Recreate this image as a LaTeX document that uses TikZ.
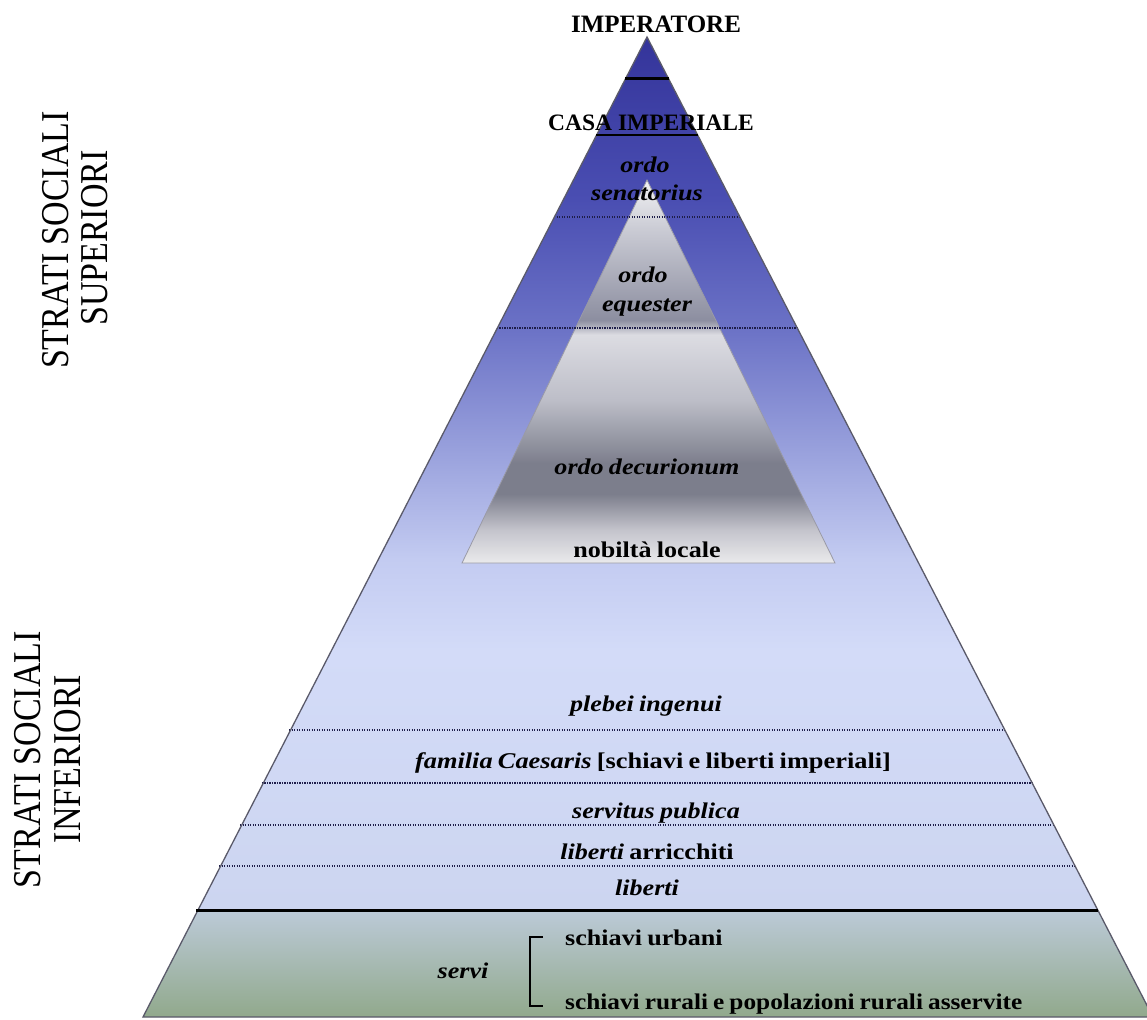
\documentclass[tikz,border=0pt]{standalone}
\usepackage{fontspec}
\setmainfont{Liberation Serif}[FakeStretch=1.16, WordSpace=0.8]
\newfontfamily\vfont{Liberation Serif}
\newfontfamily\capfont{Liberation Serif}
\usepackage{graphicx}
\definecolor{b0}{HTML}{34349A}
\definecolor{b1}{HTML}{4A4EB2}
\definecolor{b2}{HTML}{6B72C6}
\definecolor{b3}{HTML}{98A0DC}
\definecolor{b4}{HTML}{C3CBF1}
\definecolor{b5}{HTML}{D3DBF8}
\definecolor{b6}{HTML}{CCD5F0}
\definecolor{g0}{HTML}{F2F2F4}
\definecolor{g1}{HTML}{CACBD4}
\definecolor{g2}{HTML}{8C8EA0}
\definecolor{g3}{HTML}{DCDCE2}
\definecolor{g4}{HTML}{BDBEC8}
\definecolor{g5}{HTML}{7C7E8C}
\definecolor{g6}{HTML}{C4C4CC}
\definecolor{g7}{HTML}{EAEAEC}
\definecolor{lt}{HTML}{BCCAD8}
\definecolor{lb}{HTML}{91A98C}
\definecolor{dotc}{HTML}{1E1E4A}
\definecolor{edgec}{HTML}{5A5A6A}
\definecolor{inedge}{HTML}{9A9AA6}
\pgfdeclareverticalshading{uppershade}{100bp}{color(0bp)=(b6); color(25bp)=(b6); color(39.9bp)=(b5); color(45.1bp)=(b4); color(51.4bp)=(b3); color(58.3bp)=(b2); color(65.7bp)=(b1); color(75bp)=(b0); color(100bp)=(b0)}
\pgfdeclareverticalshading{innershade}{100bp}{color(0bp)=(g7); color(25bp)=(g7); color(29.3bp)=(g6); color(34bp)=(g5); color(38bp)=(g5); color(46.3bp)=(g4); color(54.8bp)=(g3); color(56.7bp)=(g2); color(68.5bp)=(g1); color(75bp)=(g0); color(100bp)=(g0)}
\begin{document}
\begin{tikzpicture}[x=1pt,y=-1pt,
  txt/.style={anchor=base, inner sep=0pt, font=\fontsize{22.5}{27}\selectfont\bfseries},
  itxt/.style={txt, font=\fontsize{22.5}{27}\selectfont\bfseries\itshape},
  caps/.style={anchor=base, inner sep=0pt, font=\capfont\fontsize{25}{30}\selectfont\bfseries},
  vlab/.style={anchor=base, inner sep=0pt, rotate=90, font=\vfont\fontsize{34}{40}\selectfont},
  dotline/.style={draw=dotc, line width=1.5pt, dash pattern=on 1.2pt off 1.3pt},
  thickline/.style={draw=black, line width=3pt},
]
\useasboundingbox (0,0) rectangle (1147,1019);
\fill[white] (0,0) rectangle (1147,1019);
\coordinate (A) at (647,37);
\coordinate (L) at (143,1017);
\coordinate (R) at (1153,1017);
\begin{scope}
  \clip (A) -- (L) -- (R) -- cycle;
  \shade[shading=uppershade] (0,37) rectangle (1200,910);
  \shade[top color=lt, bottom color=lb] (0,910) rectangle (1200,1017);
\end{scope}
% inner pyramid
\shadedraw[shading=innershade, draw=inedge, line width=0.8pt] (647,180) -- (462,563) -- (835,563) -- cycle;
% dotted separators
\draw[dotline] (554.1,217) -- (739.9,217);
\draw[dotline] (496.8,328) -- (797.2,328);
\draw[dotline] (289.2,730) -- (1004.8,730);
\draw[dotline] (261.8,783) -- (1032.2,783);
\draw[dotline] (240.2,825) -- (1053.8,825);
\draw[dotline] (219.0,866) -- (1075.0,866);
% outline
\draw[edgec, line width=1.3pt] (A) -- (L) -- (R) -- cycle;
% solid separators
\draw[thickline] (625.3,79) -- (668.7,79);
\draw[draw=black, line width=2.5pt] (596.4,135) -- (697.6,135);
\draw[thickline] (196.3,910) -- (1097.7,910);
% bracket
\coordinate (bt) at (543,937);
\coordinate (bb) at (543,1006);
\draw[black, line width=2pt] (bt) -- (530,937) -- (530,1006) -- (bb);
% texts
\node[caps] (imp) at (656,33) {IMPERATORE};
\node[caps, font=\capfont\fontsize{23.5}{28}\selectfont\bfseries] (casa) at (651,131) {CASA IMPERIALE};
\node[itxt] (sen1) at (645,172) {ordo};
\node[itxt] (sen2) at (647,200) {senatorius};
\node[itxt] (eq1) at (643,282) {ordo};
\node[itxt] (eq2) at (647,311) {equester};
\node[itxt] (dec) at (647,474) {ordo decurionum};
\node[txt] (nob) at (647,557) {nobiltà locale};
\node[itxt] (pleb) at (646,711) {plebei ingenui};
\node[txt] (fam) at (653,768) {\scalebox{1.01}[1]{\itshape familia Caesaris \upshape[schiavi e liberti imperiali]}};
\node[itxt] (serv) at (656,818) {servitus publica};
\node[txt] (libarr) at (647,859) {\itshape liberti \upshape arricchiti};
\node[itxt] (lib) at (647,895) {liberti};
\node[itxt] (servi) at (463,978) {servi};
\node[txt, anchor=base west] (urb) at (565,945) {schiavi urbani};
\node[txt, anchor=base west] (rur) at (565,1009) {\scalebox{0.97}[1]{schiavi rurali e popolazioni rurali asservite}};
% side labels
\node[vlab] (sup1) at (68,240) {\scalebox{1}[1.16]{STRATI SOCIALI}};
\node[vlab] (sup2) at (107,238) {\scalebox{1}[1.16]{SUPERIORI}};
\node[vlab] (inf1) at (40,760) {\scalebox{1}[1.16]{STRATI SOCIALI}};
\node[vlab] (inf2) at (80,759) {\scalebox{1}[1.16]{INFERIORI}};
\end{tikzpicture}
\end{document}
